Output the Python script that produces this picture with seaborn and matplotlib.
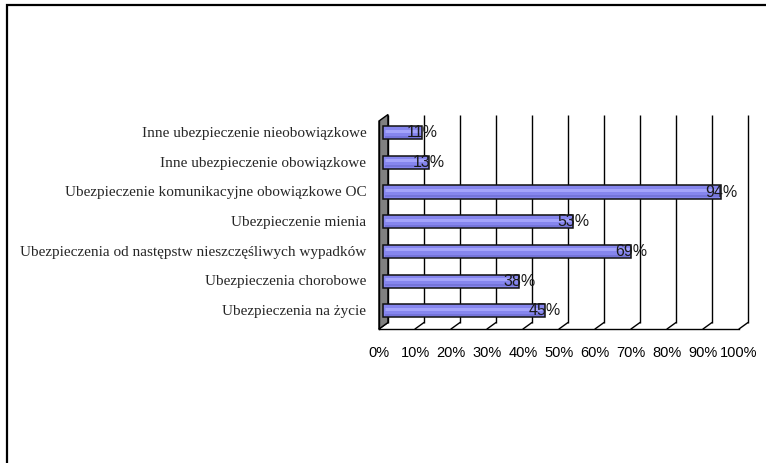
import numpy as np
import pandas as pd
import matplotlib
matplotlib.use('Agg')
import matplotlib.pyplot as plt
import matplotlib.transforms as mtransforms
from matplotlib.patches import Polygon, Rectangle
from matplotlib.lines import Line2D
import seaborn as sns

categories = [
    'Inne ubezpieczenie nieobowiązkowe',
    'Inne ubezpieczenie obowiązkowe',
    'Ubezpieczenie komunikacyjne obowiązkowe OC',
    'Ubezpieczenie mienia',
    'Ubezpieczenia od następstw nieszczęśliwych wypadków',
    'Ubezpieczenia chorobowe',
    'Ubezpieczenia na życie',
]
values = [11, 13, 94, 53, 69, 38, 45]
xticks = [0, 10, 20, 30, 40, 50, 60, 70, 80, 90, 100]
xtick_labels = [f'{t}%' for t in xticks]

df = pd.DataFrame({'kategoria': categories, 'udzial': values})

sns.set_style('white')
plt.rcParams['font.family'] = ['Liberation Sans', 'DejaVu Sans']

W, H = 766, 463
fig = plt.figure(figsize=(W / 100, H / 100), dpi=100)
fig.patch.set_facecolor('white')

# front frame of the plot area, pixel coords from top-left
L, R, T, B = 379, 739, 121, 329
ax = fig.add_axes([L / W, (H - B) / H, (R - L) / W, (B - T) / H])
ax.set_facecolor('none')

# depth offsets (3d look): back wall and middle of the bar depth
back = mtransforms.ScaledTranslation(0.09, 0.065, fig.dpi_scale_trans)
mid = mtransforms.ScaledTranslation(0.035, 0.0325, fig.dpi_scale_trans)

sns.barplot(data=df, x='udzial', y='kategoria', orient='h', ax=ax,
            color='#8686ee', saturation=1, width=0.44,
            edgecolor='#111111', linewidth=1.1, zorder=4)
for p in ax.patches:
    p.set_transform(ax.transData + mid)
    p.set_clip_on(False)

ax.set_xlim(0, 100)
ax.set_ylim(len(categories) - 0.5, -0.5)

# highlight / shade stripes on the cylinders
for i, v in enumerate(values):
    ax.plot([0.6, v - 0.6], [i - 0.07, i - 0.07], color='#a4a4fa', lw=2.2,
            transform=ax.transData + mid, zorder=5, solid_capstyle='butt',
            clip_on=False)
    ax.plot([0.6, v - 0.6], [i + 0.14, i + 0.14], color='#7272d6', lw=1.2,
            transform=ax.transData + mid, zorder=5, solid_capstyle='butt',
            clip_on=False)

# value labels
for i, v in enumerate(values):
    ax.text(v, i, f'{v}%', ha='center', va='center', fontsize=11.5,
            color='#1a1a1a', transform=ax.transData + mid, zorder=6,
            clip_on=False)

# back wall gridlines
ax.vlines(xticks, len(categories) - 0.5, -0.5, colors='black', lw=1.0,
          transform=ax.transData + back, zorder=1, clip_on=False)

# floor slants from front ticks to back gridlines
fig.canvas.draw()
for t in xticks:
    x0, y0 = ax.transData.transform((t, len(categories) - 0.5))
    x1, y1 = (ax.transData + back).transform((t, len(categories) - 0.5))
    fig.add_artist(Line2D([x0, x1], [y0, y1], transform=None, color='black', lw=1.0, zorder=-1))

# grey left wall
p0 = ax.transData.transform((0, -0.5))
p1 = (ax.transData + back).transform((0, -0.5))
p2 = (ax.transData + back).transform((0, len(categories) - 0.5))
p3 = ax.transData.transform((0, len(categories) - 0.5))
fig.add_artist(Polygon([p0, p1, p2, p3], closed=True, transform=None,
                       facecolor='#808080', edgecolor='black', lw=1.0, zorder=-1))

# axes styling
for s in ['top', 'right']:
    ax.spines[s].set_visible(False)
ax.spines['left'].set_color('black')
ax.spines['bottom'].set_color('black')
ax.spines['left'].set_linewidth(1.0)
ax.spines['bottom'].set_linewidth(1.0)

ax.set_xticks(xticks)
ax.set_xticklabels(xtick_labels, fontsize=10.5)
ax.tick_params(axis='x', direction='out', length=4, width=1, pad=8, colors='black')

ax.set_yticks(range(len(categories)))
ax.set_yticklabels(categories, family=['Liberation Serif', 'DejaVu Serif'], fontsize=11)
ax.set_yticks(np.arange(-0.5, len(categories), 1), minor=True)
ax.tick_params(axis='y', which='major', length=0, pad=9)
ax.tick_params(axis='y', which='minor', direction='out', length=4, width=1)
for lab in ax.get_yticklabels():
    lab.set_transform(lab.get_transform() + mtransforms.ScaledTranslation(0, 0.04, fig.dpi_scale_trans))

ax.set_xlabel('')
ax.set_ylabel('')

# outer chart frame (only top and left edges are inside the image)
fig.add_artist(Rectangle((6.5 / W, -0.1), 1.2, (H - 4.5) / H + 0.1,
                         transform=fig.transFigure, fill=False,
                         edgecolor='black', lw=1.6, clip_on=False))

fig.savefig('out.png', dpi=100)
